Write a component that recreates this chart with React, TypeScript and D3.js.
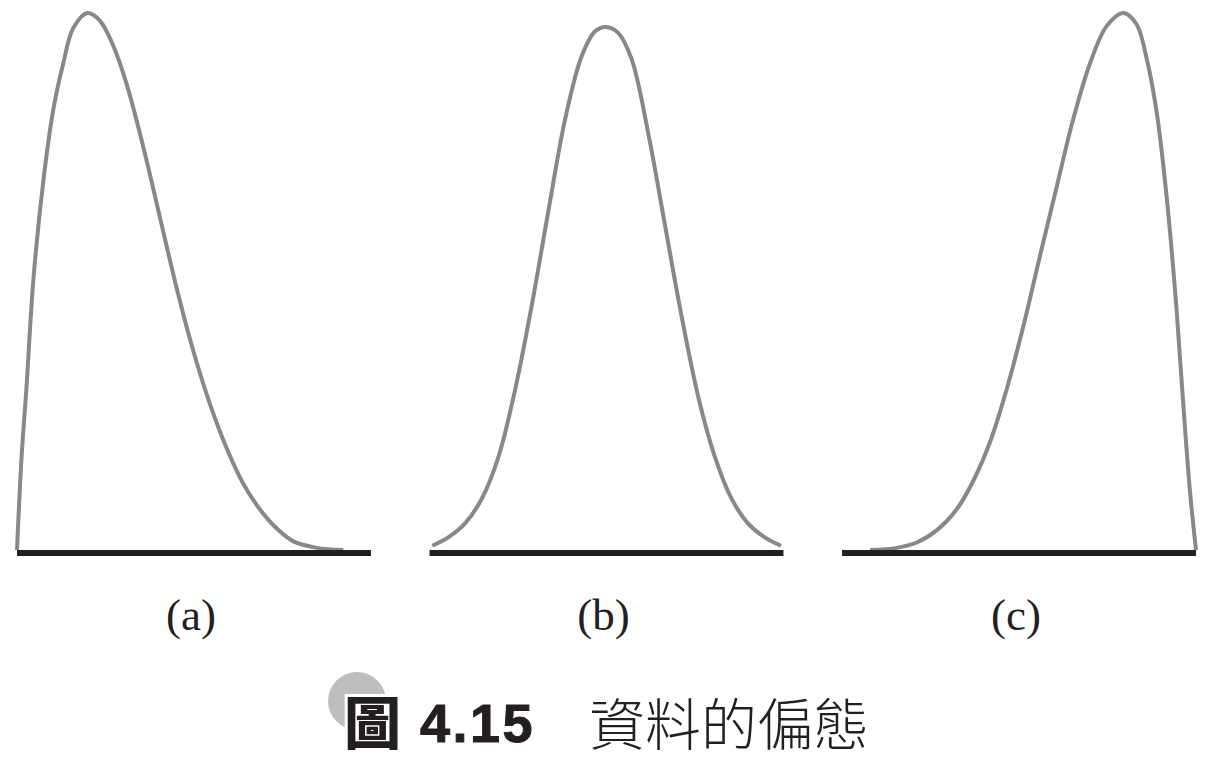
import * as d3 from "d3";

// curve samples: x = position along baseline (0-100), y = relative height (peak of a = 100)
const panels = ["a", "b", "c"];
const panelLabels = ["(a)", "(b)", "(c)"];

const curveA: [number, number][] = [
  [0, 0], [1.3, 17.4], [2.7, 30.5], [4.6, 50.1], [7.4, 68.5], [10.3, 82.2],
  [13.1, 90.7], [15.9, 97.2], [19.9, 100], [23.4, 98.6], [27.2, 93.9],
  [31.0, 86.7], [35.7, 75.0], [40.4, 61.9], [45.1, 48.8], [49.8, 37.1],
  [54.5, 27.2], [59.2, 19.0], [63.9, 12.4], [68.6, 7.6], [73.4, 4.0],
  [78.1, 1.6], [84.7, 0.4], [92.2, 0],
];

const curveB: [number, number][] = [
  [0.8, 0.8], [5.4, 2.4], [10.1, 5.0], [14.8, 9.6], [19.5, 17.4], [24.2, 29.9],
  [28.9, 45.6], [33.6, 63.2], [38.3, 80.2], [43.0, 92.0], [46.8, 96.6],
  [49.9, 97.4], [53.3, 96.3], [57.1, 91.4], [61.8, 77.6], [66.5, 60.6],
  [71.2, 43.6], [75.9, 28.6], [80.6, 17.4], [85.3, 9.6], [89.9, 5.0],
  [94.6, 2.4], [99.3, 0.8],
];

const curveC: [number, number][] = [
  [7.9, 0], [15.5, 0.4], [21.1, 1.4], [26.8, 3.7], [32.4, 7.6], [37.1, 12.9],
  [41.8, 20.1], [46.5, 29.9], [51.2, 41.6], [55.9, 54.7], [60.7, 67.8],
  [65.3, 80.2], [70.1, 90.7], [74.8, 97.6], [79.5, 100], [83.2, 97.9],
  [86.1, 91.4], [88.9, 81.5], [91.7, 65.8], [94.5, 44.9], [96.4, 27.2],
  [98.3, 10.9], [100, 0],
];

const curves = [curveA, curveB, curveC];

const figNumber = "4.15";
const figBadge = "圖";
const figTitle = "資料的偏態";

const W = 1217;
const H = 762;

export default function App() {
  const band = d3
    .scaleBand<string>()
    .domain(panels)
    .range([17, 1196])
    .paddingInner(0.142)
    .paddingOuter(0);

  const y = d3.scaleLinear([0, 100], [550, 13]);

  return (
    <svg
      width={W}
      height={H}
      viewBox={`0 0 ${W} ${H}`}
      style={{ position: "absolute", left: 0, top: 0, background: "#fff" }}
    >
      {panels.map((p, i) => {
        const x0 = band(p) ?? 0;
        const x = d3.scaleLinear([0, 100], [x0, x0 + band.bandwidth()]);
        const line = d3
          .line<[number, number]>()
          .x((d) => x(d[0]))
          .y((d) => y(d[1]))
          .curve(d3.curveCatmullRom.alpha(0.5));
        return (
          <g key={p}>
            <path
              d={line(curves[i]) ?? ""}
              fill="none"
              stroke="#87888b"
              strokeWidth={4}
            />
            <line
              x1={x(0)}
              x2={x(100)}
              y1={y(0) + 3}
              y2={y(0) + 3}
              stroke="#231f20"
              strokeWidth={6}
            />
            <text
              x={x(50) - 3}
              y={630}
              textAnchor="middle"
              fontFamily="'Liberation Serif', serif"
              fontSize={45}
              fill="#231f20"
            >
              {panelLabels[i]}
            </text>
          </g>
        );
      })}

      {/* caption */}
      <circle cx={357} cy={701} r={29} fill="#bcbec0" />
      <text
        x={344}
        y={744}
        fontFamily="'Noto Sans CJK TC', sans-serif"
        fontWeight={900}
        fontSize={57}
        fill="#231f20"
        stroke="#fff"
        strokeWidth={6}
        paintOrder="stroke"
      >
        {figBadge}
      </text>
      <text
        x={420}
        y={742}
        fontFamily="'Liberation Sans', Arial, sans-serif"
        fontWeight={700}
        fontSize={54}
        letterSpacing={2.5}
        fill="#231f20"
        stroke="#231f20"
        strokeWidth={1}
      >
        {figNumber}
      </text>
      <text
        x={589}
        y={745}
        fontFamily="'Noto Sans CJK TC', sans-serif"
        fontWeight={300}
        fontSize={56}
        fill="#231f20"
      >
        {figTitle}
      </text>
    </svg>
  );
}
